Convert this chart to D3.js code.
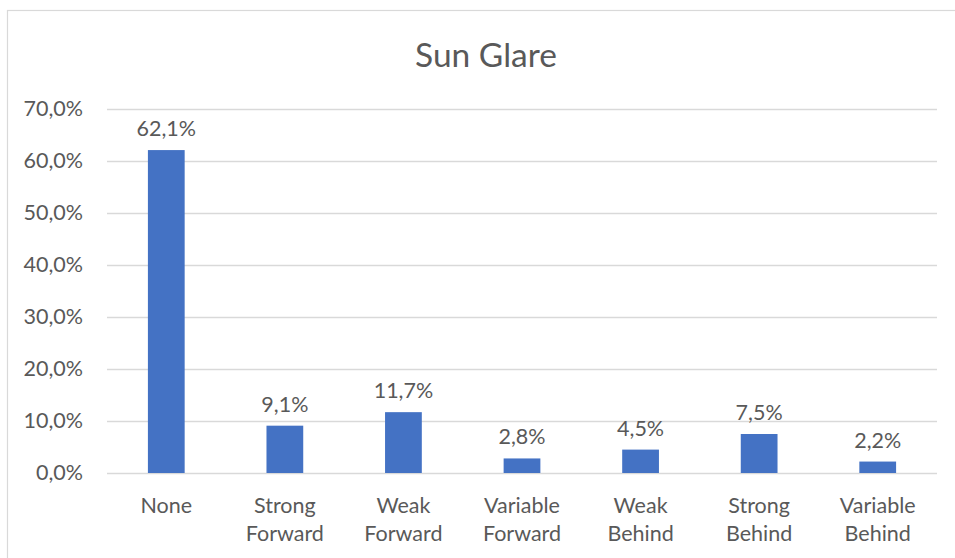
<!DOCTYPE html>
<html><head><meta charset="utf-8">
<script src="https://cdn.jsdelivr.net/npm/d3@7"></script>
<style>body{margin:0;background:#fff;}svg{display:block;font-family:Lato,"Open Sans",sans-serif;}</style>
</head><body>
<svg id="c" width="955" height="558"></svg>
<script>
const categories = [["None"],["Strong","Forward"],["Weak","Forward"],["Variable","Forward"],["Weak","Behind"],["Strong","Behind"],["Variable","Behind"]];
const values = [62.1, 9.1, 11.7, 2.8, 4.5, 7.5, 2.2];
const yTicks = [0,10,20,30,40,50,60,70];
const title = "Sun Glare";

const svg = d3.select("#c");
const W = 955, H = 558;
const m = {l:107, r:18, t:109, b:85};
const x = d3.scaleBand().domain(d3.range(categories.length)).range([m.l, W-m.r]).paddingInner(0.69).paddingOuter(0.345);
const y = d3.scaleLinear().domain([0,70]).range([473,109]);
const fmt = v => v.toFixed(1).replace(".", ",") + "%";
const txt = "#595959";
const fs = 21.5;

svg.append("rect").attr("x",7.5).attr("y",10.5).attr("width",1000).attr("height",600)
  .attr("fill","#fff").attr("stroke","#d9d9d9").attr("stroke-width",1.2);

svg.append("text").attr("x",486).attr("y",67).attr("text-anchor","middle")
  .attr("font-size",33.5).attr("fill",txt).text(title);

const yAxis = svg.append("g").attr("transform",`translate(${m.l},0)`)
  .call(d3.axisLeft(y).tickValues(yTicks).tickFormat(d=>fmt(d)).tickSize(-(W-m.r-m.l)).tickPadding(24));
yAxis.select(".domain").remove();
yAxis.selectAll("line").attr("stroke","#d9d9d9").attr("stroke-width",1.3);
yAxis.selectAll("text").attr("fill",txt).attr("font-size",fs).attr("font-family","Lato, 'Open Sans', sans-serif");

svg.append("g").selectAll("rect").data(values).join("rect")
  .attr("x",(d,i)=>x(i)).attr("width",x.bandwidth())
  .attr("y",d=>y(d)).attr("height",d=>y(0)-y(d)).attr("fill","#4472C4");

svg.append("g").selectAll("text").data(values).join("text")
  .attr("x",(d,i)=>x(i)+x.bandwidth()/2).attr("y",d=>y(d)-14)
  .attr("text-anchor","middle").attr("font-size",fs).attr("fill",txt).text(d=>fmt(d));

const xl = svg.append("g").selectAll("text").data(categories).join("text")
  .attr("x",(d,i)=>x(i)+x.bandwidth()/2).attr("y",513)
  .attr("text-anchor","middle").attr("font-size",fs).attr("fill",txt);
xl.each(function(d){
  const t = d3.select(this), cx = t.attr("x");
  d.forEach((s,k)=>t.append("tspan").attr("x",cx).attr("dy",k?28:0).text(s));
});
</script>
</body></html>
